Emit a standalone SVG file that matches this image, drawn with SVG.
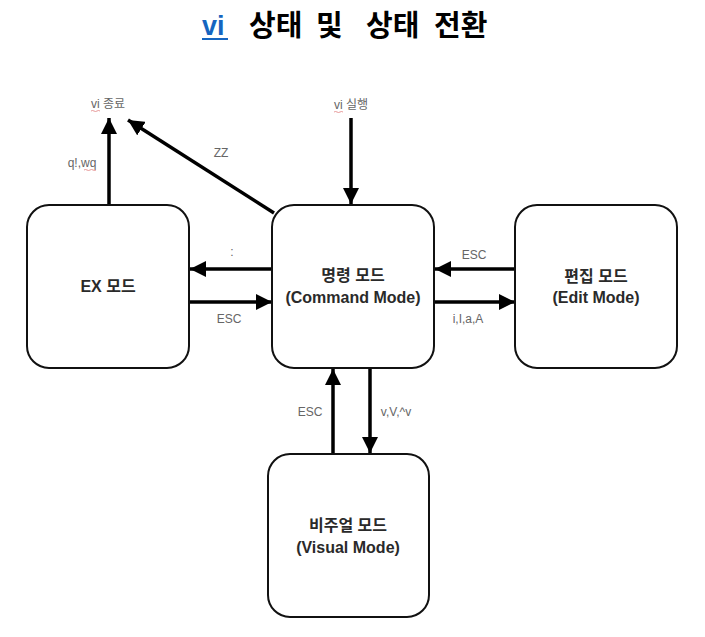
<svg xmlns="http://www.w3.org/2000/svg" width="705" height="637" viewBox="0 0 705 637">
  <style>
    .box { fill: #ffffff; stroke: #111111; stroke-width: 2; }
    .node { font-family: "Liberation Sans", "Noto Sans CJK KR", sans-serif; font-size: 16px; font-weight: bold; fill: #2a2a2a; text-anchor: middle; }
    .lbl { font-family: "Liberation Sans", "Noto Sans CJK KR", sans-serif; font-size: 12px; fill: #666666; text-anchor: middle; }
    .edge { stroke: #000000; stroke-width: 3.5; fill: none; marker-end: url(#ah); }
    .title { font-family: "Noto Sans CJK KR", "Liberation Sans", sans-serif; font-size: 29px; font-weight: bold; fill: #000000; }
  </style>
  <defs>
    <marker id="ah" markerUnits="userSpaceOnUse" markerWidth="18" markerHeight="16" refX="16" refY="8" orient="auto">
      <path d="M0,0 L16,8 L0,16 Z" fill="#000000"/>
    </marker>
  </defs>
  <rect width="705" height="637" fill="#ffffff"/>

  <g id="title">
    <text x="202" y="35" font-family="Liberation Sans, sans-serif" font-size="27" font-weight="bold" fill="#1565c0">vi</text>
    <line x1="202" y1="39" x2="228" y2="39" stroke="#1565c0" stroke-width="2"/>
    <text class="title" x="249" y="36">상태</text>
    <text class="title" x="316" y="36">및</text>
    <text class="title" x="366" y="36">상태</text>
    <text class="title" x="434" y="36">전환</text>
  </g>

  <g id="edges">
    <line class="edge" x1="351" y1="118" x2="351" y2="204"/>
    <line class="edge" x1="109" y1="205" x2="109" y2="118"/>
    <line class="edge" x1="274" y1="213" x2="128" y2="120"/>
    <line class="edge" x1="272" y1="269" x2="190" y2="269"/>
    <line class="edge" x1="189" y1="302" x2="272" y2="302"/>
    <line class="edge" x1="515" y1="269" x2="435" y2="269"/>
    <line class="edge" x1="434" y1="302" x2="515" y2="302"/>
    <line class="edge" x1="333" y1="454" x2="333" y2="369"/>
    <line class="edge" x1="370" y1="368" x2="370" y2="453"/>
  </g>

  <g id="labels">
    <text class="lbl" x="108" y="108" font-size="11">vi 종료</text>
    <path d="M91,111 q1.5,-1 3,0 t3,0 t3,0" stroke="#e08080" stroke-width="0.8" fill="none"/>
    <text class="lbl" x="351" y="109" font-size="11">vi 실행</text>
    <path d="M334,112 q1.5,-1 3,0 t3,0 t3,0" stroke="#e08080" stroke-width="0.8" fill="none"/>
    <text class="lbl" x="82" y="167">q!,wq</text>
    <path d="M84,170 q1.5,-1 3,0 t3,0 t3,0 t3,0" stroke="#e08080" stroke-width="0.8" fill="none"/>
    <text class="lbl" x="221" y="157">ZZ</text>
    <text class="lbl" x="232" y="256">:</text>
    <text class="lbl" x="229" y="323">ESC</text>
    <text class="lbl" x="474" y="259">ESC</text>
    <text class="lbl" x="468" y="323">i,I,a,A</text>
    <text class="lbl" x="310" y="416">ESC</text>
    <text class="lbl" x="396" y="416">v,V,^v</text>
  </g>

  <g id="ex-mode">
    <rect class="box" x="27" y="205" width="162" height="163" rx="22"/>
    <text class="node" x="108" y="292">EX 모드</text>
  </g>
  <g id="command-mode">
    <rect class="box" x="272" y="205" width="162" height="163" rx="22"/>
    <text class="node" x="353" y="281">명령 모드</text>
    <text class="node" x="353" y="303">(Command Mode)</text>
  </g>
  <g id="edit-mode">
    <rect class="box" x="515" y="205" width="162" height="163" rx="22"/>
    <text class="node" x="596" y="282">편집 모드</text>
    <text class="node" x="596" y="303">(Edit Mode)</text>
  </g>
  <g id="visual-mode">
    <rect class="box" x="268" y="454" width="161" height="163" rx="22"/>
    <text class="node" x="348" y="531">비주얼 모드</text>
    <text class="node" x="348" y="553">(Visual Mode)</text>
  </g>
</svg>
